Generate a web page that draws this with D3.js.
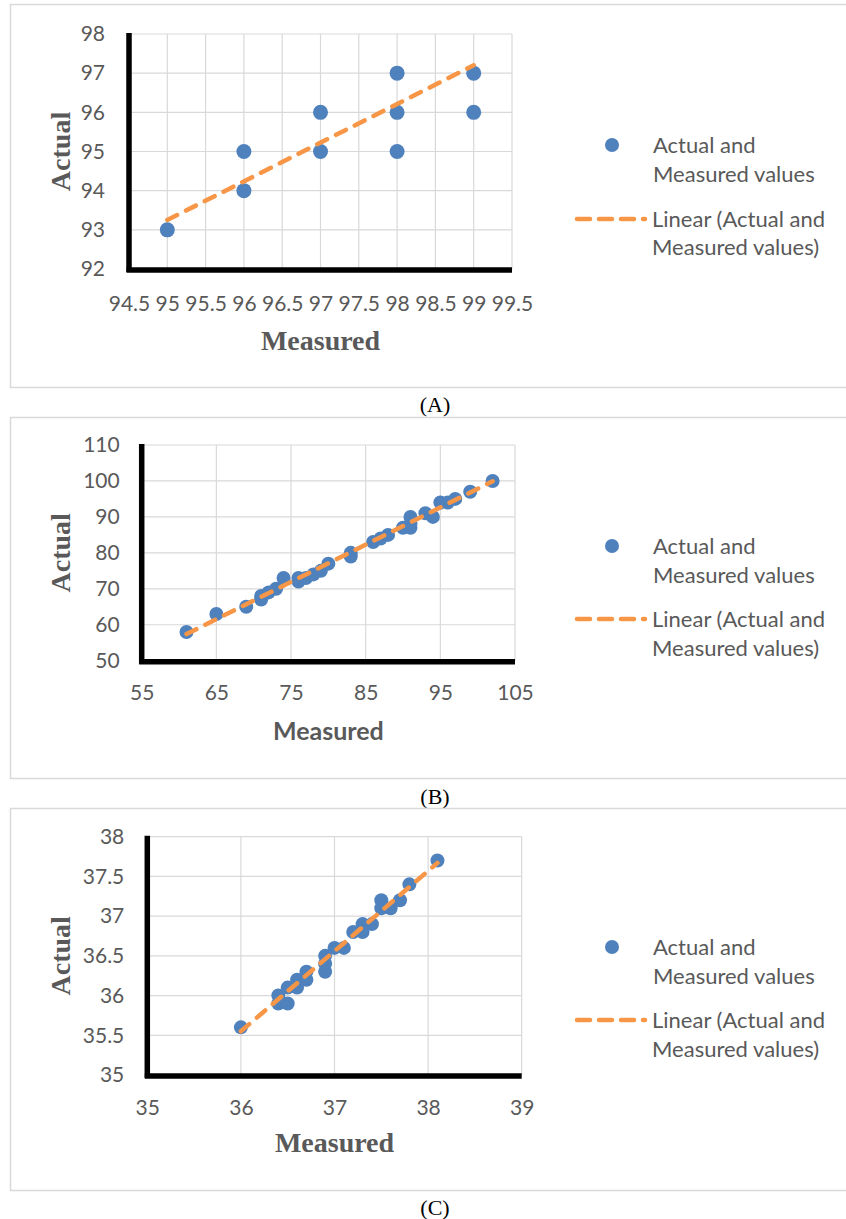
<!DOCTYPE html>
<html>
<head>
<meta charset="utf-8">
<script src="https://cdn.jsdelivr.net/npm/d3@7"></script>
<style>
  html, body { margin: 0; padding: 0; background: #ffffff; }
  svg { display: block; }
</style>
</head>
<body>
<svg id="chart" width="846" height="1219"></svg>
<script>
// ---------------- DATA ----------------
// Panel A
const measuredA = [95, 96, 96, 97, 97, 98, 98, 98, 99, 99];
const actualA   = [93, 95, 94, 96, 95, 97, 96, 95, 97, 96];
const xTicksA = [94.5, 95, 95.5, 96, 96.5, 97, 97.5, 98, 98.5, 99, 99.5];
const yTicksA = [92, 93, 94, 95, 96, 97, 98];
const trendXA = [95, 99];
const trendYA = [93.25, 97.2];

// Panel B
const measuredB = [61, 65, 69, 71, 71, 72, 73, 74, 76, 76, 77, 78, 79, 80, 83, 83, 86, 87, 88, 90, 91, 91, 91, 93, 94, 95, 96, 97, 99, 102];
const actualB   = [58, 63, 65, 67, 68, 69, 70, 73, 72, 73, 73, 74, 75, 77, 79, 80, 83, 84, 85, 87, 88, 87, 90, 91, 90, 94, 94, 95, 97, 100];
const xTicksB = [55, 65, 75, 85, 95, 105];
const yTicksB = [50, 60, 70, 80, 90, 100, 110];
const trendXB = [61, 102];
const trendYB = [57.4, 99.9];

// Panel C
const measuredC = [36, 36.4, 36.4, 36.5, 36.5, 36.6, 36.6, 36.7, 36.7, 36.9, 36.9, 36.9, 37, 37.1, 37.2, 37.3, 37.3, 37.4, 37.5, 37.5, 37.6, 37.7, 37.8, 38.1];
const actualC   = [35.6, 36.0, 35.9, 35.9, 36.1, 36.2, 36.1, 36.3, 36.2, 36.5, 36.4, 36.3, 36.6, 36.6, 36.8, 36.9, 36.8, 36.9, 37.2, 37.1, 37.1, 37.2, 37.4, 37.7];
const xTicksC = [35, 36, 37, 38, 39];
const yTicksC = [35, 35.5, 36, 36.5, 37, 37.5, 38];
const trendXC = [36, 38.1];
const trendYC = [35.55, 37.67];

const legendLabels = ["Actual and", "Measured values", "Linear (Actual and", "Measured values)"];
const captions = ["(A)", "(B)", "(C)"];
const xTitle = "Measured";
const yTitle = "Actual";

// ---------------- STYLE ----------------
const BLUE = "#4F81BD";
const ORANGE = "#F79646";
const GRID = "#D9D9D9";
const TXT = "#595959";
const SANS = "Lato, 'Open Sans', sans-serif";
const SERIF = "'Liberation Serif', 'Times New Roman', serif";

const svg = d3.select("#chart");
svg.append("rect").attr("width", 846).attr("height", 1219).attr("fill", "#fff");

function drawPanel(p) {
  const g = svg.append("g");
  // chart area border
  g.append("rect")
    .attr("x", p.box[0]).attr("y", p.box[1])
    .attr("width", p.box[2]).attr("height", p.box[3])
    .attr("fill", "none").attr("stroke", GRID).attr("stroke-width", 1.5);

  const x = d3.scaleLinear().domain(d3.extent(p.xTicks)).range([p.plot[0], p.plot[1]]);
  const y = d3.scaleLinear().domain(d3.extent(p.yTicks)).range([p.plot[3], p.plot[2]]);

  // gridlines
  g.append("g").selectAll("line").data(p.xTicks).join("line")
    .attr("x1", d => x(d)).attr("x2", d => x(d))
    .attr("y1", y.range()[1]).attr("y2", y.range()[0])
    .attr("stroke", GRID).attr("stroke-width", 1.2);
  g.append("g").selectAll("line").data(p.yTicks).join("line")
    .attr("y1", d => y(d)).attr("y2", d => y(d))
    .attr("x1", x.range()[0]).attr("x2", x.range()[1])
    .attr("stroke", GRID).attr("stroke-width", 1.2);

  // tick labels via d3 axes
  const fmt = d => String(d);
  const ax = g.append("g").attr("transform", `translate(0,${y.range()[0]})`)
    .call(d3.axisBottom(x).tickValues(p.xTicks).tickFormat(fmt).tickSize(0).tickPadding(p.xPad));
  const ay = g.append("g").attr("transform", `translate(${x.range()[0]},0)`)
    .call(d3.axisLeft(y).tickValues(p.yTicks).tickFormat(fmt).tickSize(0).tickPadding(p.yPad));
  [ax, ay].forEach(a => {
    a.select(".domain").remove();
    a.attr("font-family", SANS).attr("font-size", 21);
    a.selectAll("text").attr("fill", TXT);
  });

  // thick black axis lines
  g.append("line")
    .attr("x1", x.range()[0]).attr("x2", x.range()[0])
    .attr("y1", y.range()[1] - 1).attr("y2", y.range()[0] + 3)
    .attr("stroke", "#000").attr("stroke-width", 5.5);
  g.append("line")
    .attr("x1", x.range()[0] - 2.5).attr("x2", x.range()[1])
    .attr("y1", y.range()[0] + 1).attr("y2", y.range()[0] + 1)
    .attr("stroke", "#000").attr("stroke-width", 5.5);

  // points
  const pts = p.xs.map((v, i) => [v, p.ys[i]]);
  g.append("g").selectAll("circle").data(pts).join("circle")
    .attr("cx", d => x(d[0])).attr("cy", d => y(d[1]))
    .attr("r", p.r).attr("fill", BLUE);

  // trendline
  const tl = p.tx.map((v, i) => [v, p.ty[i]]);
  g.append("path").datum(tl)
    .attr("d", d3.line().x(d => x(d[0])).y(d => y(d[1])))
    .attr("fill", "none").attr("stroke", ORANGE).attr("stroke-width", 4.5)
    .attr("stroke-linecap", "round").attr("stroke-dasharray", "11,10");

  // axis titles
  g.append("text")
    .attr("x", (x.range()[0] + x.range()[1]) / 2).attr("y", y.range()[0] + p.xTitleDy)
    .attr("text-anchor", "middle")
    .attr("font-family", p.xTitleFont).attr("font-weight", "bold")
    .attr("font-size", p.xTitleSize).attr("fill", TXT).text(xTitle);
  g.append("text")
    .attr("transform", `translate(70,${(y.range()[0] + y.range()[1]) / 2}) rotate(-90)`)
    .attr("text-anchor", "middle")
    .attr("font-family", SERIF).attr("font-weight", "bold")
    .attr("font-size", 28).attr("fill", TXT).text(yTitle);

  // legend
  const L = p.legend;
  g.append("circle").attr("cx", 612).attr("cy", L[0]).attr("r", 7).attr("fill", BLUE);
  g.append("line").attr("x1", 577).attr("x2", 645).attr("y1", L[2]).attr("y2", L[2])
    .attr("stroke", ORANGE).attr("stroke-width", 4.5).attr("stroke-linecap", "round")
    .attr("stroke-dasharray", "13,9");
  legendLabels.forEach((t, i) => {
    g.append("text").attr("x", i < 2 ? 653 : 652).attr("y", L[i]).attr("dy", "0.35em")
      .attr("font-family", SANS).attr("font-size", 22).attr("fill", TXT).text(t);
  });

  // caption
  svg.append("text").attr("x", 435).attr("y", p.captionY).attr("dy", "0.35em")
    .attr("text-anchor", "middle").attr("font-family", SERIF)
    .attr("font-size", 22).attr("fill", "#000").text(p.caption);
}

drawPanel({
  box: [10.5, 4.5, 840, 383],
  plot: [129, 512, 34, 269],
  xTicks: xTicksA, yTicks: yTicksA, xs: measuredA, ys: actualA, tx: trendXA, ty: trendYA,
  r: 7.5, xPad: 27, yPad: 24, xTitleDy: 81, xTitleFont: SERIF, xTitleSize: 28,
  legend: [145, 174, 219, 247], caption: captions[0], captionY: 404
});
drawPanel({
  box: [10.5, 417.5, 840, 361],
  plot: [141.7, 515, 445, 660.7],
  xTicks: xTicksB, yTicks: yTicksB, xs: measuredB, ys: actualB, tx: trendXB, ty: trendYB,
  r: 7, xPad: 24, yPad: 22, xTitleDy: 79, xTitleFont: SANS, xTitleSize: 25,
  legend: [546, 575, 619, 648], caption: captions[1], captionY: 796
});
drawPanel({
  box: [10.5, 808.5, 840, 382],
  plot: [147.3, 521.7, 836.7, 1075],
  xTicks: xTicksC, yTicks: yTicksC, xs: measuredC, ys: actualC, tx: trendXC, ty: trendYC,
  r: 7, xPad: 25, yPad: 23, xTitleDy: 77, xTitleFont: SERIF, xTitleSize: 28,
  legend: [947, 976, 1020, 1049], caption: captions[2], captionY: 1207
});
</script>
</body>
</html>
